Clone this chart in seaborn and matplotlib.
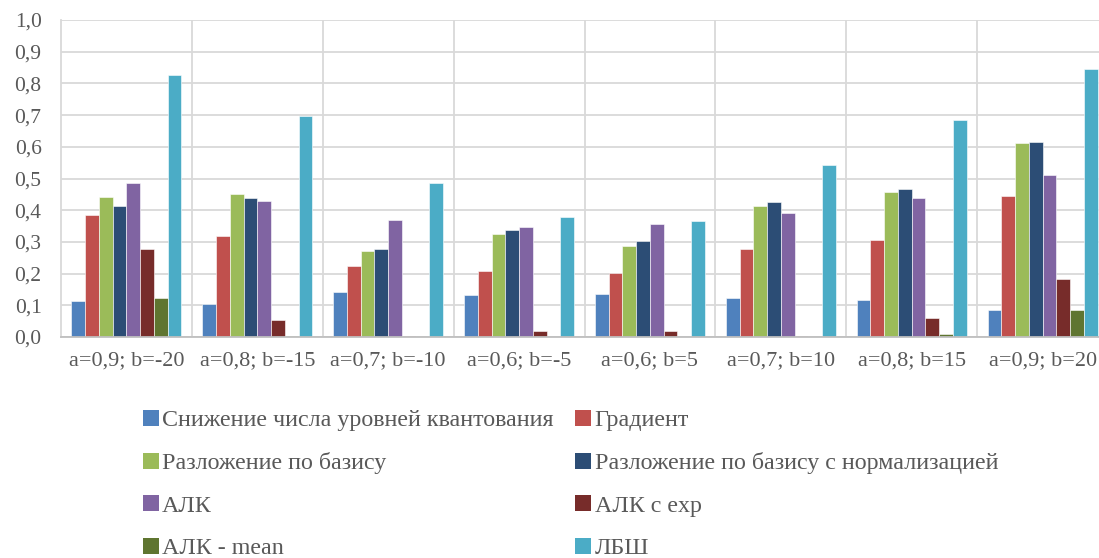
import matplotlib
matplotlib.use("Agg")
import matplotlib.pyplot as plt
from matplotlib.patches import Patch
from matplotlib.ticker import FuncFormatter, FixedLocator
import numpy as np
import pandas as pd
import seaborn as sns

# Parameter sets (categories on the x axis)
categories = ["a=0,9; b=-20", "a=0,8; b=-15", "a=0,7; b=-10", "a=0,6; b=-5",
              "a=0,6; b=5", "a=0,7; b=10", "a=0,8; b=15", "a=0,9; b=20"]

# Methods (series)
methods = ["Снижение числа уровней квантования", "Градиент",
           "Разложение по базису", "Разложение по базису с нормализацией",
           "АЛК", "АЛК с exp", "АЛК - mean", "ЛБШ"]

quantization = [0.113, 0.104, 0.143, 0.131, 0.135, 0.123, 0.117, 0.086]
gradient = [0.385, 0.319, 0.224, 0.209, 0.202, 0.278, 0.307, 0.446]
basis = [0.442, 0.452, 0.270, 0.325, 0.287, 0.412, 0.458, 0.612]
basis_norm = [0.413, 0.440, 0.279, 0.338, 0.303, 0.426, 0.467, 0.616]
alk = [0.486, 0.428, 0.369, 0.347, 0.355, 0.392, 0.438, 0.511]
alk_exp = [0.279, 0.054, 0.004, 0.018, 0.018, 0.004, 0.059, 0.184]
alk_mean = [0.122, 0.003, 0.0, 0.0, 0.0, 0.0, 0.008, 0.085]
lbsh = [0.828, 0.696, 0.486, 0.379, 0.366, 0.542, 0.685, 0.845]

colors = ["#4F81BD", "#C0504D", "#9BBB59", "#2C4D75",
          "#8064A2", "#772C2A", "#5F7530", "#4BACC6"]

series = [quantization, gradient, basis, basis_norm, alk, alk_exp, alk_mean, lbsh]
df = pd.DataFrame({
    "category": np.repeat([categories], len(methods), axis=0).ravel(),
    "method": np.repeat(methods, len(categories)),
    "value": np.concatenate(series),
})

sns.set_theme(style="white")
plt.rcParams["font.family"] = ["Liberation Serif", "DejaVu Serif"]
text_color = "#595959"
grid_color = "#D9D9D9"

fig = plt.figure(figsize=(10.99, 5.58), dpi=100)
ax = fig.add_axes([61 / 1099, 1 - 337 / 558, 1047 / 1099, 317 / 558])

sns.barplot(data=df, x="category", y="value", hue="method", order=categories,
            hue_order=methods, palette=colors, width=0.84, gap=0,
            edgecolor="white", linewidth=0.4, saturation=1, legend=False, ax=ax)

ax.set_xlim(-0.5, len(categories) - 0.5)
ax.set_ylim(0, 1.0)
ax.set_yticks(np.arange(0, 1.01, 0.1))
ax.yaxis.set_major_formatter(FuncFormatter(lambda v, _: f"{v:.1f}".replace(".", ",")))
ax.xaxis.set_minor_locator(FixedLocator(np.arange(0.5, len(categories) - 0.5, 1)))
ax.set_axisbelow(True)
ax.grid(axis="y", which="major", color=grid_color, linewidth=1.3)
ax.grid(axis="x", which="minor", color=grid_color, linewidth=1.3)
ax.grid(axis="x", which="major", visible=False)

ax.set_xlabel("")
ax.set_ylabel("")
ax.tick_params(axis="y", length=0, pad=14, labelsize=15.5, labelcolor=text_color)
ax.tick_params(axis="x", which="both", length=0, pad=10, labelsize=16,
               labelcolor=text_color)

for side in ["top", "right"]:
    ax.spines[side].set_visible(False)
ax.spines["left"].set_color(grid_color)
ax.spines["left"].set_linewidth(1.3)
ax.spines["bottom"].set_color("#BFBFBF")
ax.spines["bottom"].set_linewidth(1.3)

# Legend laid out row by row in two columns: reorder entries for column-major fill
ncol = 2
order = [i for c in range(ncol) for i in range(c, len(methods), ncol)]
handles = [Patch(facecolor=colors[i], edgecolor="none") for i in order]
labels = [methods[i] for i in order]
fig.legend(handles, labels, ncol=ncol, loc="upper left",
           bbox_to_anchor=(131 / 1099, 1 - 398 / 558), frameon=False,
           borderpad=0, fontsize=17.3, labelcolor=text_color, handlelength=0.65,
           handleheight=0.65, handletextpad=0.15, columnspacing=0.9,
           labelspacing=0.87)

fig.savefig("out.png", dpi=100)
